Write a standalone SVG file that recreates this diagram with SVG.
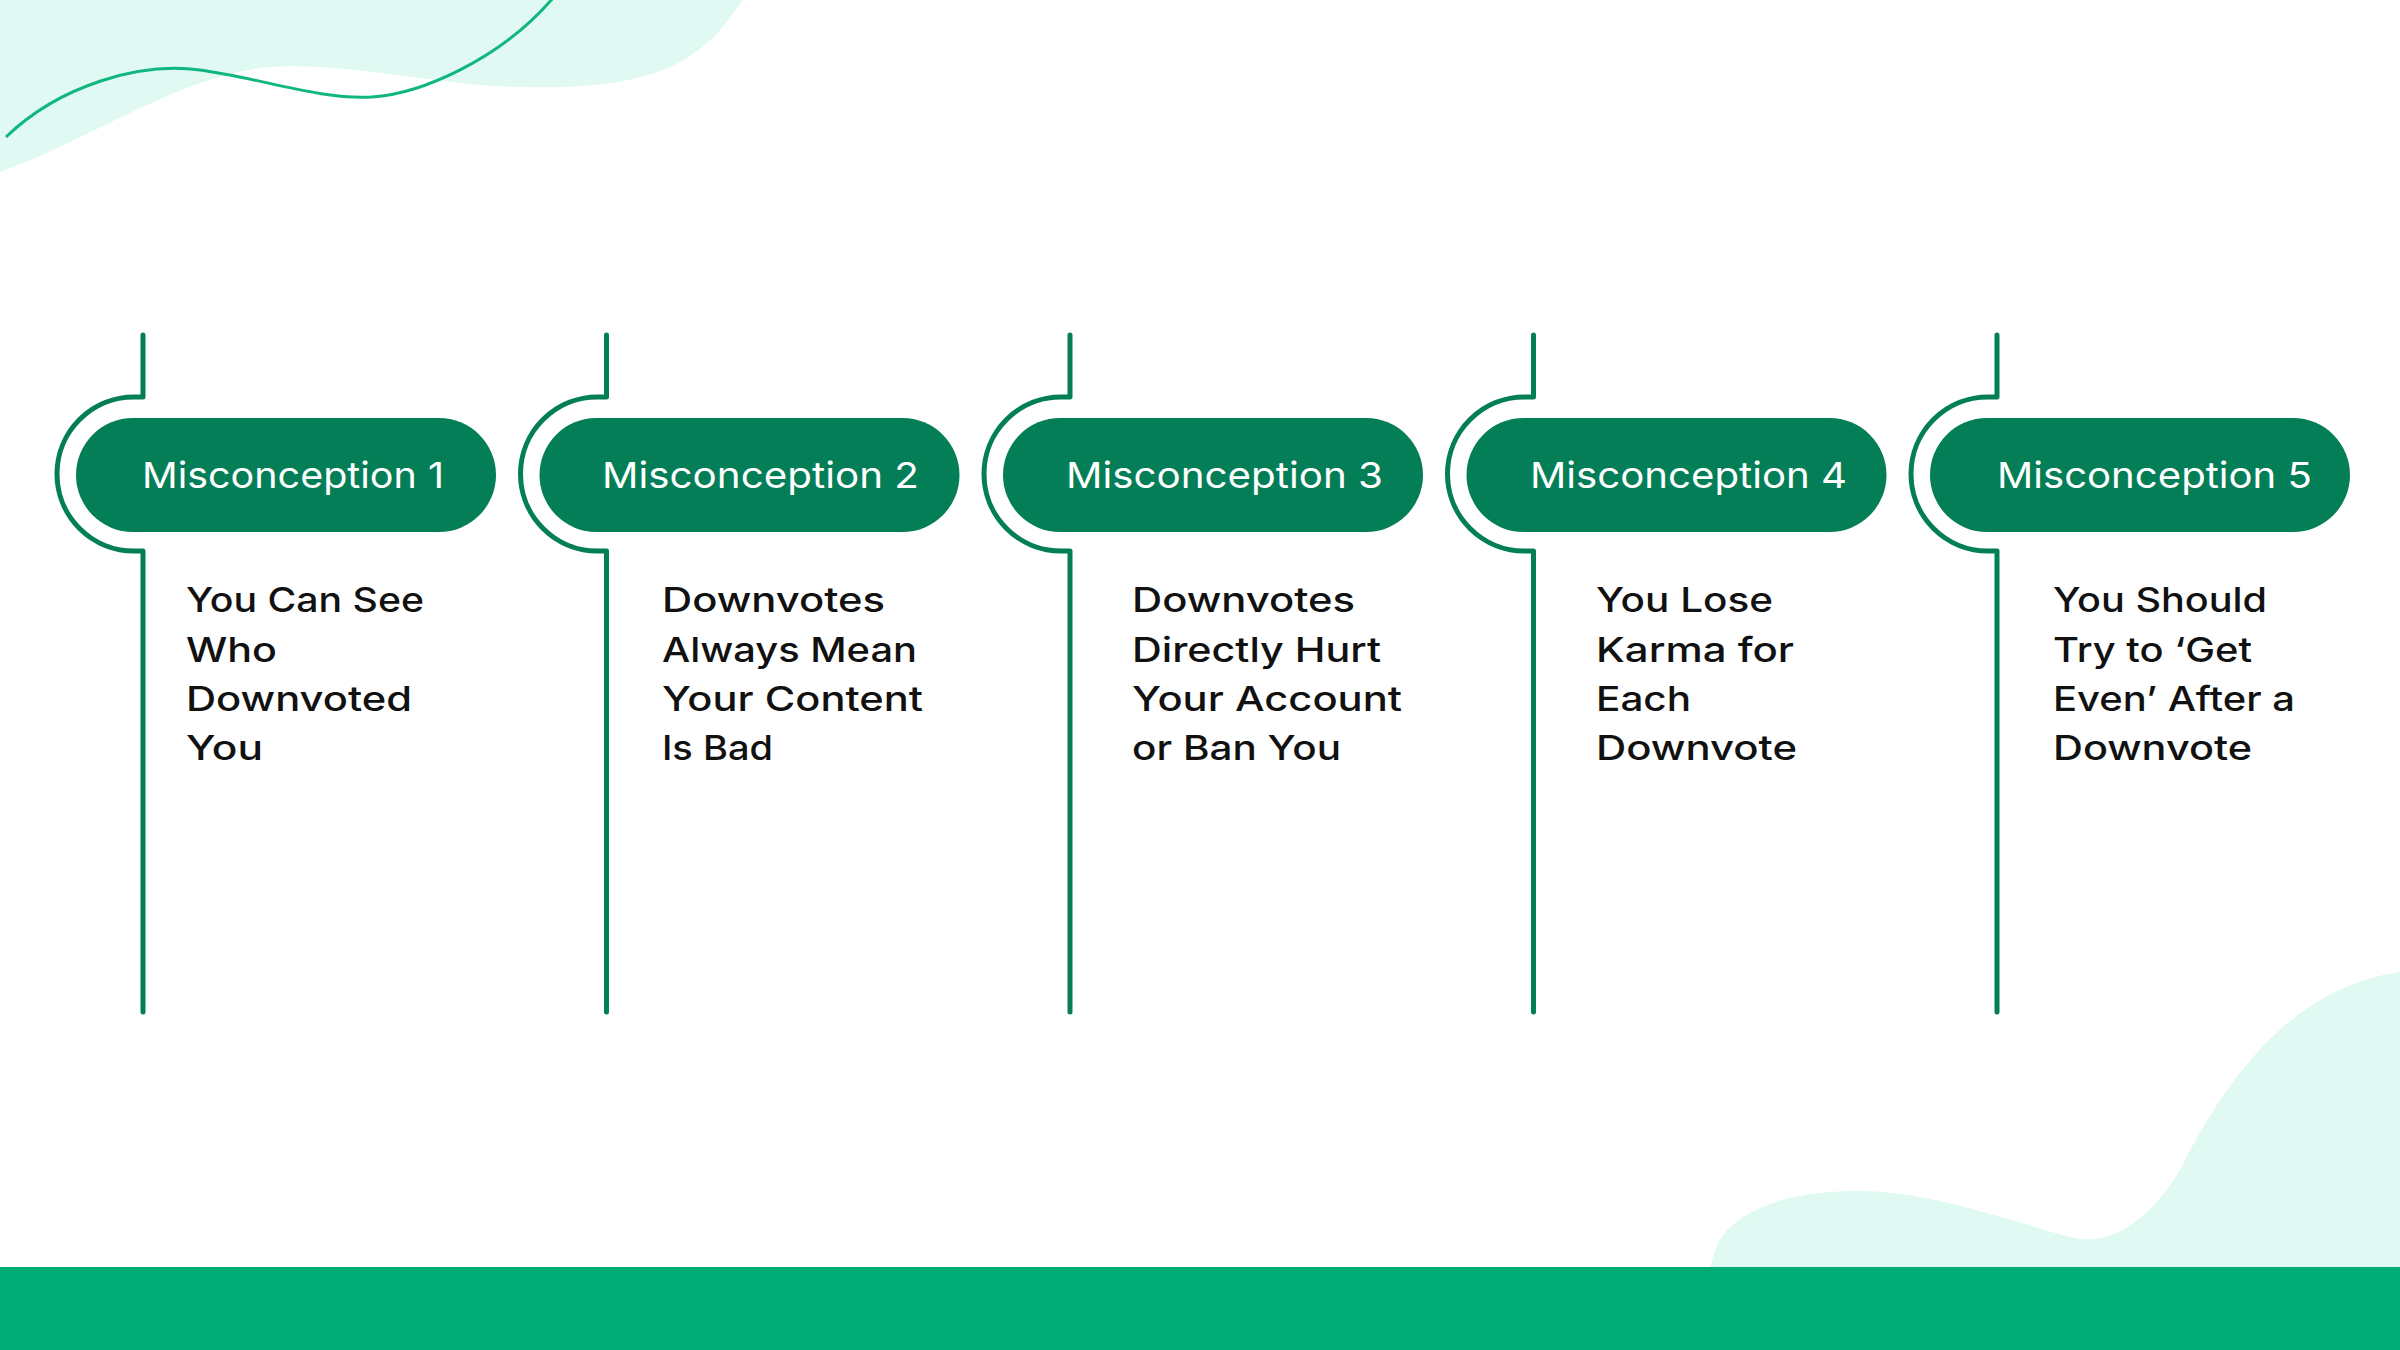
<svg xmlns="http://www.w3.org/2000/svg" width="2400" height="1350" viewBox="0 0 2400 1350">
<style>
.deco{fill:#e0f9f2}
.track{fill:none;stroke:#037e57;stroke-width:5;stroke-linecap:round;stroke-linejoin:round}
.pill{fill:#037e57}
.title{font-family:Inter,"DejaVu Sans","Liberation Sans",sans-serif;font-size:36px;font-weight:400;fill:#ffffff}
.body{font-family:Inter,"DejaVu Sans","Liberation Sans",sans-serif;font-size:34px;font-weight:500;fill:#111111}
</style>
<rect width="2400" height="1350" fill="#ffffff"/>
<path class="deco" d="M0,0 H742 C700,70 640,90 520,87 C430,85 350,62 270,67 C180,75 90,140 0,172 Z"/>
<path d="M6,137 C60,85 140,62 200,70 C260,78 320,100 372,97 C420,94 500,60 553,-2" fill="none" stroke="#10b680" stroke-width="3"/>
<path class="deco" d="M1710,1268 L1717,1245 C1735,1210 1790,1190 1860,1191 C1930,1192 1990,1215 2070,1237 C2110,1248 2150,1220 2180,1170 C2240,1050 2310,985 2400,972 V1268 Z"/>
<rect x="0" y="1267" width="2400" height="83" fill="#00ab74"/>
<g id="connectors">
<path class="track" d="M143,335 V397 H134 A77,77 0 0 0 134,551 H143 V1012"/>
<path class="track" d="M606.5,335 V397 H597.5 A77,77 0 0 0 597.5,551 H606.5 V1012"/>
<path class="track" d="M1070,335 V397 H1061 A77,77 0 0 0 1061,551 H1070 V1012"/>
<path class="track" d="M1533.5,335 V397 H1524.5 A77,77 0 0 0 1524.5,551 H1533.5 V1012"/>
<path class="track" d="M1997,335 V397 H1988 A77,77 0 0 0 1988,551 H1997 V1012"/>
</g>
<g id="node1">
<rect class="pill" x="76" y="418" width="420" height="114" rx="57"/>
<text class="title" x="142" y="488" textLength="302" lengthAdjust="spacingAndGlyphs">Misconception 1</text>
<text class="body" x="186" y="612" textLength="238" lengthAdjust="spacingAndGlyphs">You Can See</text>
<text class="body" x="186" y="662" textLength="91" lengthAdjust="spacingAndGlyphs">Who</text>
<text class="body" x="186" y="711" textLength="226" lengthAdjust="spacingAndGlyphs">Downvoted</text>
<text class="body" x="186" y="760" textLength="77" lengthAdjust="spacingAndGlyphs">You</text>
</g>
<g id="node2">
<rect class="pill" x="539.5" y="418" width="420" height="114" rx="57"/>
<text class="title" x="602" y="488" textLength="317" lengthAdjust="spacingAndGlyphs">Misconception 2</text>
<text class="body" x="662" y="612" textLength="223" lengthAdjust="spacingAndGlyphs">Downvotes</text>
<text class="body" x="662" y="662" textLength="255" lengthAdjust="spacingAndGlyphs">Always Mean</text>
<text class="body" x="662" y="711" textLength="261" lengthAdjust="spacingAndGlyphs">Your Content</text>
<text class="body" x="662" y="760" textLength="111" lengthAdjust="spacingAndGlyphs">Is Bad</text>
</g>
<g id="node3">
<rect class="pill" x="1003" y="418" width="420" height="114" rx="57"/>
<text class="title" x="1066" y="488" textLength="317" lengthAdjust="spacingAndGlyphs">Misconception 3</text>
<text class="body" x="1132" y="612" textLength="223" lengthAdjust="spacingAndGlyphs">Downvotes</text>
<text class="body" x="1132" y="662" textLength="249" lengthAdjust="spacingAndGlyphs">Directly Hurt</text>
<text class="body" x="1132" y="711" textLength="270" lengthAdjust="spacingAndGlyphs">Your Account</text>
<text class="body" x="1132" y="760" textLength="209" lengthAdjust="spacingAndGlyphs">or Ban You</text>
</g>
<g id="node4">
<rect class="pill" x="1466.5" y="418" width="420" height="114" rx="57"/>
<text class="title" x="1530" y="488" textLength="317" lengthAdjust="spacingAndGlyphs">Misconception 4</text>
<text class="body" x="1596" y="612" textLength="177" lengthAdjust="spacingAndGlyphs">You Lose</text>
<text class="body" x="1596" y="662" textLength="198" lengthAdjust="spacingAndGlyphs">Karma for</text>
<text class="body" x="1596" y="711" textLength="95" lengthAdjust="spacingAndGlyphs">Each</text>
<text class="body" x="1596" y="760" textLength="201" lengthAdjust="spacingAndGlyphs">Downvote</text>
</g>
<g id="node5">
<rect class="pill" x="1930" y="418" width="420" height="114" rx="57"/>
<text class="title" x="1997" y="488" textLength="315" lengthAdjust="spacingAndGlyphs">Misconception 5</text>
<text class="body" x="2053" y="612" textLength="214" lengthAdjust="spacingAndGlyphs">You Should</text>
<text class="body" x="2053" y="662" textLength="199" lengthAdjust="spacingAndGlyphs">Try to ‘Get</text>
<text class="body" x="2053" y="711" textLength="242" lengthAdjust="spacingAndGlyphs">Even’ After a</text>
<text class="body" x="2053" y="760" textLength="199" lengthAdjust="spacingAndGlyphs">Downvote</text>
</g>
</svg>
